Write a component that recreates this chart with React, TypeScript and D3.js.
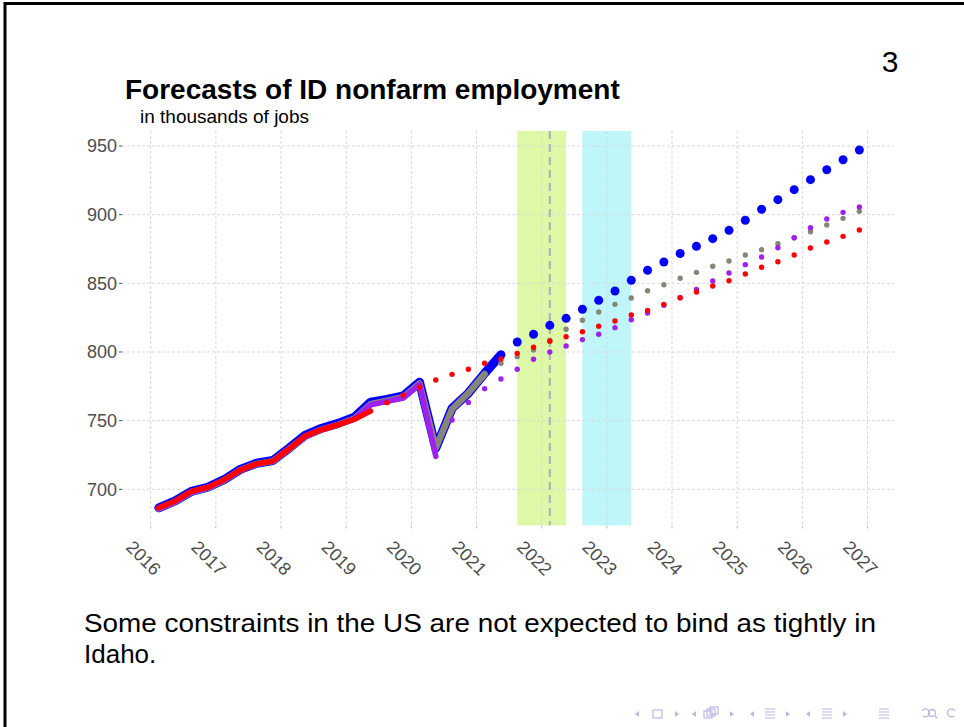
import React from 'react';
import * as d3 from 'd3';

// ---------- data ----------
const historyQuarters = [
  '2016Q1', '2016Q2', '2016Q3', '2016Q4', '2017Q1', '2017Q2', '2017Q3', '2017Q4',
  '2018Q1', '2018Q2', '2018Q3', '2018Q4', '2019Q1', '2019Q2', '2019Q3', '2019Q4',
  '2020Q1', '2020Q2', '2020Q3', '2020Q4', '2021Q1', '2021Q2',
];
const forecastQuarters = [
  '2019Q3', '2019Q4', '2020Q1', '2020Q2', '2020Q3', '2020Q4', '2021Q1', '2021Q2',
  '2021Q3', '2021Q4', '2022Q1', '2022Q2', '2022Q3', '2022Q4', '2023Q1', '2023Q2',
  '2023Q3', '2023Q4', '2024Q1', '2024Q2', '2024Q3', '2024Q4', '2025Q1', '2025Q2',
  '2025Q3', '2025Q4', '2026Q1', '2026Q2', '2026Q3', '2026Q4',
];

// latest vintage (blue)
const blueHistory = [686.5, 691.5, 698.5, 701.5, 707, 714.5, 719, 721, 730, 739.5, 744.5, 748,
  752.5, 763.5, 765.5, 768, 778, 730, 759, 770, 784.5, 798];
const blueForecastStart = '2021Q3';
const blueForecast = [807.3, 812.9, 819.4, 824.5, 831.1, 837.6, 844.4, 852.2, 859.5, 865.5, 871.7,
  877.0, 882.5, 888.6, 895.9, 903.9, 910.9, 918.2, 925.5, 932.7, 940.0, 947.1];

// gray vintage
const grayHistory = [686, 691, 698, 701, 706.5, 714, 718.5, 720.5, 729.5, 738.5, 743.5, 747,
  751.5, 762, 764.5, 767, 777, 730, 758.5, 770, 784];
const grayForecastStart = '2021Q2';
const grayForecast = [791.8, 796.6, 801.4, 808.5, 816.5, 823.1, 829.1, 834.7, 839.3, 844.6, 849.0,
  853.7, 858.0, 862.4, 866.3, 870.6, 874.5, 878.9, 883.2, 887.6, 892.5, 897.3, 902.4];

// purple vintage
const purpleHistory = [686, 691, 698, 701, 706.5, 714, 718.5, 720.5, 729.5, 738.5, 743.5, 747,
  751.5, 761.5, 764, 766.5, 776.5, 724];
const purpleForecastStart = '2020Q3';
const purpleForecast = [750.5, 763.3, 773.3, 780.3, 787.4, 794.7, 800, 804.4, 809.0, 812.9, 817.7,
  823.5, 828.4, 834, 839.5, 845.6, 851.7, 857.5, 863.6, 869.2, 875.9, 883.2, 890.5, 896.8, 901.7, 905.6];

// red vintage
const redHistory = [686.5, 691.5, 698.5, 701.5, 707, 714, 718.5, 720.5, 729.5, 739, 743.5, 747,
  751, 757];
const redForecastStart = '2019Q3';
const redForecast = [763.1, 768.5, 774.3, 779.6, 783.7, 787.4, 791.8, 794.9, 799.0, 803.4, 807.8,
  811.1, 814.8, 818.7, 822.6, 826.9, 830.3, 834.7, 839.5, 843.7, 848.0, 851.9, 856.8, 861.7, 865.7,
  870.6, 875.7, 880.1, 884.2, 888.8];

const yTicks = [700, 750, 800, 850, 900, 950];
const xTicks = [2016, 2017, 2018, 2019, 2020, 2021, 2022, 2023, 2024, 2025, 2026, 2027];
const xTickLabels = ['2016', '2017', '2018', '2019', '2020', '2021', '2022', '2023', '2024', '2025', '2026', '2027'];

const shadeStarts = [2021.625, 2022.625];
const shadeEnds = [2022.375, 2023.375];
const shadeColors = ['#ddf9a7', '#bff6f9'];
const markerYear = 2022.125;

const title = 'Forecasts of ID nonfarm employment';
const subtitle = 'in thousands of jobs';
const bodyLine1 = 'Some constraints in the US are not expected to bind as tightly in';
const bodyLine2 = 'Idaho.';
const pageNumber = '3';

// ---------- helpers ----------
const qToYear = (q: string) => {
  const [yr, qq] = q.split('Q');
  return +yr + (+qq - 1) * 0.25 + 0.125;
};
const pair = (quarters: string[], values: number[]) =>
  values.map((v, i) => ({ t: qToYear(quarters[i]), v }));
const fromStart = (start: string, values: number[]) => {
  const i0 = forecastQuarters.indexOf(start);
  return pair(forecastQuarters.slice(i0), values);
};

const PANEL = { left: 122, right: 894, top: 131, bottom: 525.5 };

export default function App() {
  const x = d3.scaleLinear().domain([2016, 2027]).range([150.7, 867.5]);
  const y = d3.scaleLinear().domain([700, 950]).range([489.3, 146]);
  const line = d3.line<{ t: number; v: number }>().x(d => x(d.t)).y(d => y(d.v));

  const hist = [
    { data: pair(historyQuarters, blueHistory), color: '#0000ff', w: 9 },
    { data: pair(historyQuarters, grayHistory), color: '#878577', w: 6.5 },
    { data: pair(historyQuarters, purpleHistory), color: '#a020f0', w: 5.5 },
    { data: pair(historyQuarters, redHistory), color: '#ff0000', w: 5.5 },
  ];
  const fc = [
    { data: fromStart(grayForecastStart, grayForecast), color: '#878577', r: 2.7 },
    { data: fromStart(purpleForecastStart, purpleForecast), color: '#a020f0', r: 2.7 },
    { data: fromStart(redForecastStart, redForecast), color: '#ff0000', r: 2.7 },
    { data: fromStart(blueForecastStart, blueForecast), color: '#0000ff', r: 4.5 },
  ];

  const gridColor = '#d9d9d9';
  const axisText = '#4d4d4d';
  const nav = '#b9b9e3';
  const ny = 714;

  return (
    <svg width={964} height={727} style={{ position: 'absolute', left: 0, top: 0, display: 'block', background: '#fff' }}
      fontFamily="'Liberation Sans', Arial, sans-serif">
      <rect x={0} y={0} width={964} height={727} fill="#fff" />
      {/* frame border */}
      <path d="M5,727 L5,3.5 L964,3.5" fill="none" stroke="#000" strokeWidth={3} />

      <text x={890} y={72} fontSize={30} textAnchor="middle" fill="#000">{pageNumber}</text>

      {/* title */}
      <text x={125} y={99} fontSize={28} fontWeight="bold" fill="#000">{title}</text>
      <text x={140} y={123} fontSize={18.5} fill="#000" textLength={169} lengthAdjust="spacingAndGlyphs">{subtitle}</text>

      {/* shaded periods */}
      {shadeStarts.map((s, i) => (
        <rect key={'sh' + i} x={x(s)} y={PANEL.top} width={x(shadeEnds[i]) - x(s)} height={PANEL.bottom - PANEL.top}
          fill={shadeColors[i]} />
      ))}

      {/* grid */}
      {yTicks.map(t => (
        <line key={'gy' + t} x1={PANEL.left} x2={PANEL.right} y1={y(t)} y2={y(t)}
          stroke={gridColor} strokeWidth={1} strokeDasharray="3,2" />
      ))}
      {xTicks.map(t => (
        <line key={'gx' + t} x1={x(t)} x2={x(t)} y1={PANEL.top} y2={PANEL.bottom}
          stroke={gridColor} strokeWidth={1} strokeDasharray="3,2" />
      ))}

      {/* marker line */}
      <line x1={x(markerYear)} x2={x(markerYear)} y1={PANEL.top} y2={PANEL.bottom}
        stroke="#b3b3b3" strokeWidth={2.2} strokeDasharray="8,5" />

      {/* history lines */}
      {hist.map((h, i) => (
        <path key={'h' + i} d={line(h.data) || ''} fill="none" stroke={h.color} strokeWidth={h.w}
          strokeLinecap="round" strokeLinejoin="round" />
      ))}
      {/* forecast dots */}
      {fc.map((f, i) => (
        <g key={'f' + i}>
          {f.data.map((d, j) => (
            <circle key={j} cx={x(d.t)} cy={y(d.v)} r={f.r} fill={f.color} />
          ))}
        </g>
      ))}

      {/* y axis */}
      {yTicks.map(t => (
        <g key={'yt' + t}>
          <line x1={PANEL.left - 3} x2={PANEL.left} y1={y(t)} y2={y(t)} stroke={axisText} strokeWidth={1} />
          <text x={PANEL.left - 5} y={y(t)} dy="0.35em" textAnchor="end" fontSize={18} fill={axisText}>{t}</text>
        </g>
      ))}
      {/* x axis */}
      {xTicks.map((t, i) => (
        <g key={'xt' + t}>
          <line x1={x(t)} x2={x(t)} y1={PANEL.bottom} y2={PANEL.bottom + 3} stroke="#bdbdbd" strokeWidth={1} />
          <text transform={`translate(${x(t) - 7},${558}) rotate(45)`} textAnchor="middle" dy="0.35em"
            fontSize={18} fill={axisText}>{xTickLabels[i]}</text>
        </g>
      ))}

      {/* body text */}
      <text x={84} y={632} fontSize={26} fill="#000" textLength={792} lengthAdjust="spacingAndGlyphs">{bodyLine1}</text>
      <text x={84} y={663} fontSize={26} fill="#000">{bodyLine2}</text>

      {/* beamer navigation symbols */}
      <g fill={nav} stroke="none">
        <path d={`M635,${ny} l4,-3 v6 z`} />
        <rect x={653} y={ny - 4} width={9} height={8} fill="none" stroke={nav} strokeWidth={1.2} />
        <path d={`M675,${ny - 3} l4,3 l-4,3 z`} />
        <path d={`M692,${ny} l4,-3 v6 z`} />
        <rect x={704} y={ny - 3} width={8} height={7} fill="none" stroke={nav} strokeWidth={1.2} />
        <rect x={707} y={ny - 5} width={8} height={7} fill="none" stroke={nav} strokeWidth={1.2} />
        <rect x={710} y={ny - 7} width={8} height={7} fill="none" stroke={nav} strokeWidth={1.2} />
        <path d={`M730,${ny - 3} l4,3 l-4,3 z`} />
        <path d={`M750,${ny} l4,-3 v6 z`} />
        <path d={`M765,${ny - 5} h10 M765,${ny - 2} h10 M765,${ny + 1} h10 M765,${ny + 4} h10`} stroke={nav} strokeWidth={1.2} />
        <path d={`M786,${ny - 3} l4,3 l-4,3 z`} />
        <path d={`M806,${ny} l4,-3 v6 z`} />
        <path d={`M822,${ny - 5} h10 M822,${ny - 2} h10 M822,${ny + 1} h10 M822,${ny + 4} h10`} stroke={nav} strokeWidth={1.2} />
        <path d={`M843,${ny - 3} l4,3 l-4,3 z`} />
        <path d={`M879,${ny - 5} h10 M879,${ny - 2} h10 M879,${ny + 1} h10 M879,${ny + 4} h10`} stroke={nav} strokeWidth={1.2} />
        <path d={`M922,${ny - 3} a4,4 0 1,1 1,5`} fill="none" stroke={nav} strokeWidth={1.3} />
        <circle cx={932} cy={ny - 1} r={3.5} fill="none" stroke={nav} strokeWidth={1.3} />
        <path d={`M934.5,${ny + 1.5} l3,3`} stroke={nav} strokeWidth={1.3} />
        <path d={`M955,${ny - 3} a4,4 0 1,0 -1,5`} fill="none" stroke={nav} strokeWidth={1.3} />
      </g>
    </svg>
  );
}
